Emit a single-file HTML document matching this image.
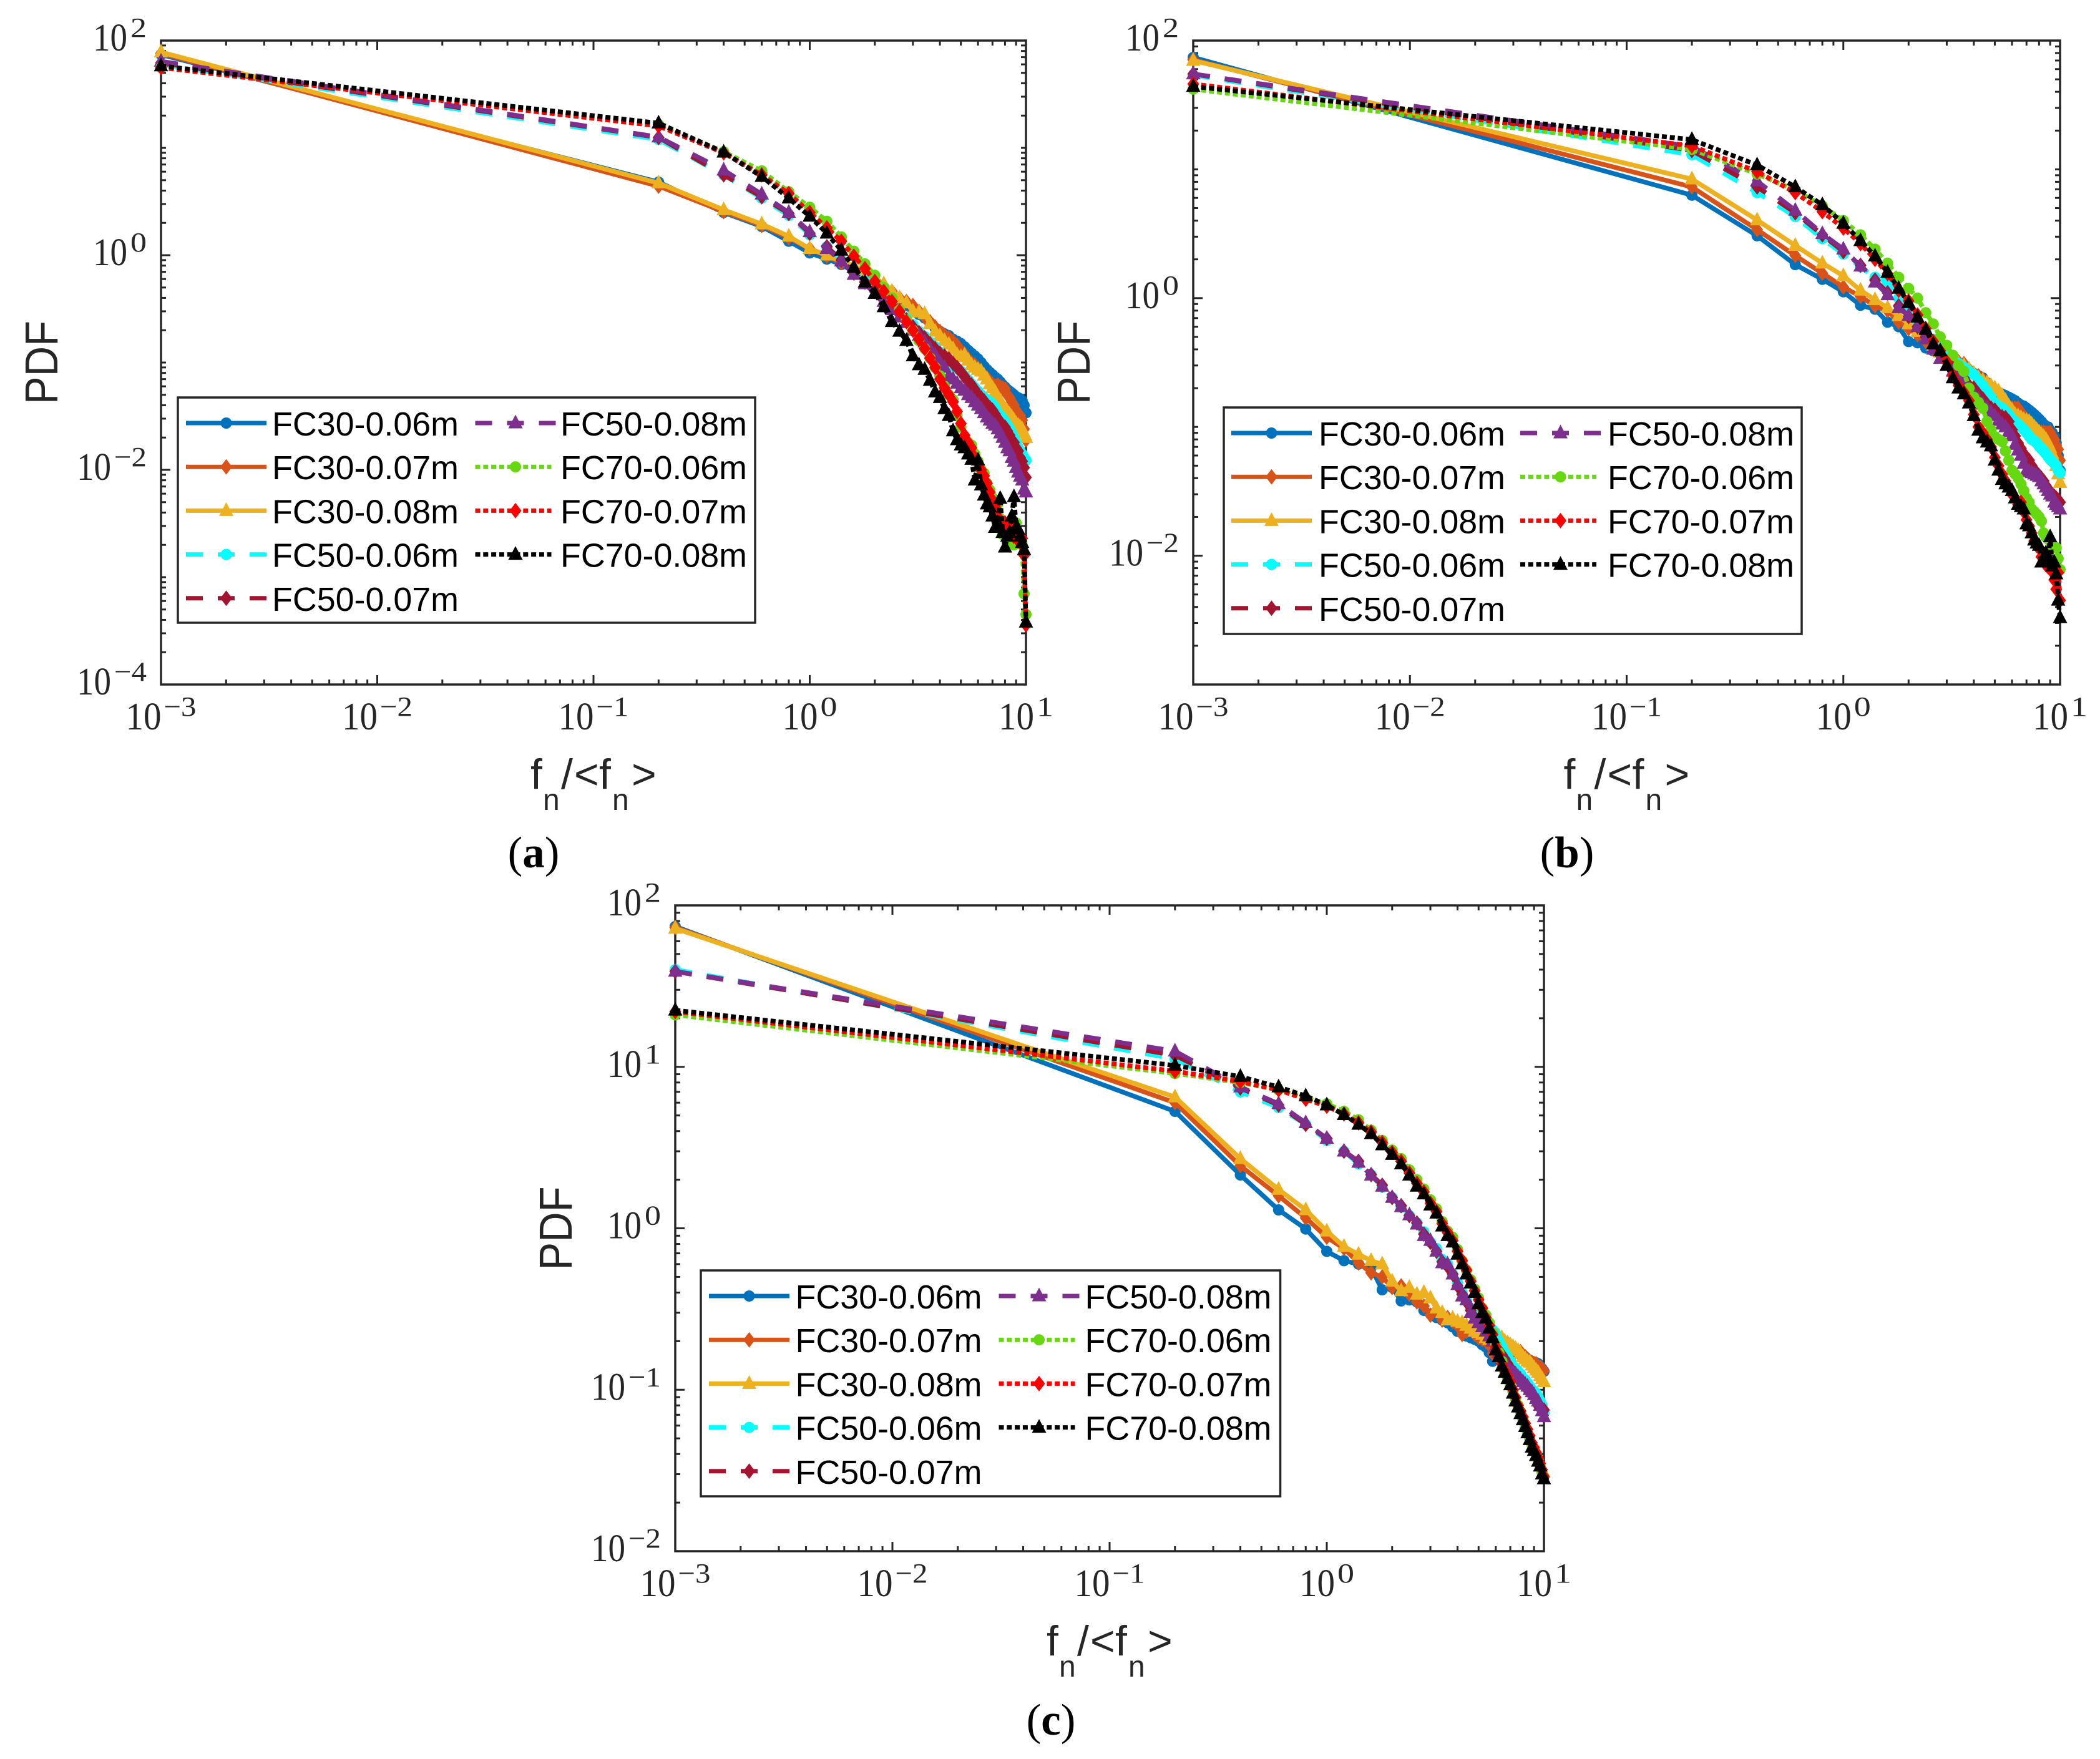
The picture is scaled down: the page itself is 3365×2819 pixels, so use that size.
<!DOCTYPE html>
<html lang="en">
<head>
<meta charset="utf-8">
<title>PDF of normal contact force for FC30, FC50 and FC70</title>
<style>
html,body{margin:0;padding:0;background:#fff}
svg{display:block}
</style>
</head>
<body>
<svg id="figure" xmlns="http://www.w3.org/2000/svg" width="3365" height="2819" viewBox="0 0 3365 2819">
<rect x="0" y="0" width="3365" height="2819" fill="#ffffff"/>
</svg>
<script>
// ---------- shared categories ----------
const xValues = [0.001,
 0.2,0.4,0.6,0.8,1.0,1.2,1.4,1.6,1.8,2.0,
 2.2,2.4,2.6,2.8,3.0,3.2,3.4,3.6,3.8,4.0,
 4.2,4.4,4.6,4.8,5.0,5.2,5.4,5.6,5.8,6.0,
 6.2,6.4,6.6,6.8,7.0,7.2,7.4,7.6,7.8,8.0,
 8.2,8.4,8.6,8.8,9.0,9.2,9.4,9.6,9.8,10.0];
const seriesNames = ['FC30-0.06m','FC30-0.07m','FC30-0.08m','FC50-0.06m','FC50-0.07m','FC50-0.08m','FC70-0.06m','FC70-0.07m','FC70-0.08m'];
const xTickExponents = [-3,-2,-1,0,1];
const yTickExponentsA = [-4,-2,0,2];
const yTickExponentsB = [-2,0,2];
const yTickExponentsC = [-2,-1,0,1,2];

// ---------- panel (a) values ----------
const a_fc30_06 = [74,
 4.8,2.5,1.85,1.35,1.05,.92,.82,.7,.6,.54,
 .47,.42,.38,.34,.31,.28,.26,.235,.21,.195,
 .185,.178,.165,.158,.15,.14,.13,.122,.115,.108,
 .1,.092,.086,.081,.077,.073,.07,.066,.062,.059,
 .056,.054,.052,.05,.048,.047,.046,.044,.04,.034];
const a_fc30_07 = [76,
 4.4,2.55,1.9,1.45,1.15,.98,.85,.75,.65,.58,
 .52,.46,.4,.37,.34,.3,.265,.24,.215,.195,
 .18,.17,.158,.145,.13,.12,.107,.1,.095,.088,
 .082,.076,.072,.067,.063,.06,.062,.059,.058,.057,
 .05,.047,.043,.04,.036,.033,.032,.029,.024,.019];
const a_fc30_08 = [78,
 4.7,2.65,1.95,1.5,1.15,1,.88,.79,.71,.62,
 .54,.46,.4,.36,.3,.295,.284,.23,.195,.177,
 .16,.148,.134,.118,.113,.117,.105,.095,.09,.086,
 .083,.076,.07,.063,.058,.053,.048,.044,.04,.037,
 .035,.033,.031,.029,.027,.026,.025,.024,.022,.02];
const a_fc50_06 = [60,
 12,5.6,3.4,2.35,1.55,1.2,.9,.7,.58,.48,
 .4,.34,.3,.26,.225,.195,.175,.155,.14,.125,
 .11,.1,.092,.088,.083,.075,.069,.063,.058,.054,
 .05,.047,.045,.043,.041,.038,.034,.032,.03,.028,
 .026,.024,.022,.02,.018,.016,.015,.014,.013,.0123];
const a_fc50_07 = [62,
 12.5,5.6,3.5,2.45,1.6,1.2,.9,.68,.56,.46,
 .38,.33,.29,.25,.215,.19,.17,.15,.135,.122,
 .115,.108,.098,.09,.082,.074,.066,.062,.056,.05,
 .047,.044,.04,.038,.036,.033,.03,.028,.026,.025,
 .023,.021,.019,.018,.016,.015,.013,.012,.0105,.0085];
const a_fc50_08 = [64,
 12.6,6.2,3.7,2.5,1.65,1.15,.88,.66,.54,.44,
 .37,.31,.265,.235,.2,.178,.155,.135,.117,.1,
 .09,.075,.07,.064,.058,.055,.05,.047,.043,.04,
 .037,.034,.031,.029,.027,.026,.024,.022,.02,.018,
 .016,.015,.013,.012,.0105,.0095,.0087,.008,.0066,.0062];
const a_fc70_06 = [56,
 16.5,9.2,6.1,3.9,2.8,2.07,1.48,1.09,.83,.65,
 .5,.4,.31,.25,.2,.16,.135,.11,.09,.075,
 .06,.05,.045,.032,.025,.02,.018,.017,.014,.012,
 .01,.0093,.0075,.0065,.0055,.005,.0048,.0035,.0025,.0028,
 .0032,.0022,.0026,.002,.0032,.0024,.0022,.002,.0007,.00045];
const a_fc70_07 = [56,
 16,9,5.6,3.75,2.5,1.8,1.35,.98,.75,.57,
 .46,.37,.3,.24,.2,.165,.135,.11,.09,.07,
 .058,.05,.043,.035,.027,.021,.018,.016,.013,.0115,
 .01,.0088,.0075,.0062,.0052,.0045,.0036,.0034,.003,.0032,
 .0026,.0032,.0028,.0024,.0027,.0022,.0021,.0023,.0016,.00036];
const a_fc70_08 = [58,
 17,9.1,5.4,3.4,2.3,1.6,1.11,.77,.56,.44,
 .33,.24,.195,.16,.115,.095,.086,.068,.053,.047,
 .037,.032,.023,.019,.017,.016,.014,.0125,.008,.0123,
 .0072,.0058,.0048,.0045,.0037,.0029,.0032,.0054,.0026,.0019,
 .0024,.0026,.0037,.0056,.0029,.0028,.0024,.0021,.0018,.00038];

// ---------- panel (b) values ----------
const b_fc30_06 = [74,
 6.3,3.05,1.82,1.4,1.12,.88,.82,.65,.6,.46,
 .45,.41,.39,.37,.35,.33,.31,.29,.275,.26,
 .25,.24,.22,.205,.195,.185,.18,.175,.17,.165,
 .16,.153,.148,.145,.14,.135,.13,.125,.12,.115,
 .11,.105,.063,.1,.094,.09,.085,.075,.06,.046];
const b_fc30_07 = [71,
 7.3,3.4,2.14,1.56,1.22,1.03,.87,.8,.65,.58,
 .52,.46,.4,.37,.34,.33,.32,.31,.28,.26,
 .25,.235,.22,.2,.19,.175,.16,.15,.145,.14,
 .14,.14,.13,.12,.115,.11,.105,.1,.095,.092,
 .091,.091,.09,.09,.091,.085,.08,.072,.067,.055];
const b_fc30_08 = [70,
 8.4,4.04,2.56,1.87,1.49,1.15,.97,.84,.73,.63,
 .55,.48,.43,.38,.35,.33,.31,.3,.28,.26,
 .24,.23,.22,.21,.2,.19,.175,.16,.145,.135,
 .125,.122,.118,.114,.112,.11,.105,.1,.095,.091,
 .087,.084,.08,.075,.069,.062,.056,.05,.043,.037];
const b_fc50_06 = [54,
 13,6.6,4.3,2.9,2.2,1.75,1.45,1.33,1.0,.8,
 .66,.55,.48,.42,.38,.35,.31,.29,.27,.255,
 .23,.21,.19,.17,.153,.145,.14,.132,.125,.115,
 .11,.105,.1,.095,.09,.085,.08,.078,.075,.071,
 .068,.065,.062,.059,.056,.054,.052,.05,.046,.044];
const b_fc50_07 = [55,
 14,7.3,4.6,3.1,2.3,1.8,1.38,1.1,.87,.72,
 .6,.5,.42,.36,.32,.29,.27,.24,.21,.2,
 .18,.165,.15,.14,.135,.125,.12,.118,.11,.095,
 .085,.075,.068,.062,.058,.055,.05,.046,.044,.042,
 .04,.038,.035,.033,.031,.03,.029,.028,.027,.026];
const b_fc50_08 = [55,
 15,8.1,4.8,3.16,2.4,1.77,1.33,1.06,.84,.73,
 .6,.48,.4,.34,.3,.27,.25,.23,.2,.18,
 .165,.15,.14,.13,.122,.112,.105,.1,.092,.085,
 .073,.066,.06,.052,.046,.045,.044,.043,.042,.041,
 .038,.036,.034,.032,.03,.029,.026,.025,.024,.023];
const b_fc70_06 = [42,
 14.3,9.2,6.9,5.2,4,3.1,2.4,1.87,1.45,1.19,
 1,.77,.63,.5,.43,.36,.3,.27,.2,.17,
 .155,.14,.11,.095,.084,.08,.077,.065,.055,.046,
 .043,.04,.036,.032,.028,.026,.023,.022,.021,.02,
 .0186,.015,.014,.0135,.013,.012,.0118,.0115,.0095,.0078];
const b_fc70_07 = [46,
 15.2,9.6,6.6,4.7,3.5,2.65,2.0,1.55,1.15,.95,
 .74,.58,.46,.39,.32,.25,.21,.185,.16,.125,
 .1,.09,.08,.07,.058,.05,.043,.038,.034,.03,
 .028,.025,.026,.022,.019,.017,.015,.013,.012,.0115,
 .0098,.0092,.0085,.0082,.0088,.0075,.0065,.0055,.0074,.0045];
const b_fc70_08 = [44,
 17,10.8,7.3,5.3,3.8,2.79,2.12,1.58,1.19,.92,
 .71,.57,.44,.39,.3,.24,.2,.18,.153,.122,
 .094,.082,.076,.071,.055,.046,.039,.036,.034,.032,
 .028,.025,.024,.023,.0176,.017,.015,.0132,.0125,.012,
 .0089,.0094,.0105,.0089,.014,.0083,.0089,.0072,.0045,.0033];

// ---------- panel (c) values ----------
const c_fc30_06 = [74,
 5.3,2.14,1.3,.99,.72,.63,.6,.57,.416,.43,
 .355,.36,.35,.31,.295,.28,.27,.26,.245,.23,
 .225,.215,.21,.205,.2,.19,.184,.17,.15,.16,
 .175,.18,.19,.195,.185,.18,.175,.17,.168,.165,
 .16,.155,.152,.15,.148,.147,.145,.14,.135,.13];
const c_fc30_07 = [73,
 6,2.44,1.59,1.16,.88,.75,.61,.53,.5,.43,
 .44,.39,.35,.33,.29,.31,.27,.28,.265,.25,
 .22,.23,.24,.22,.21,.205,.2,.19,.168,.185,
 .19,.185,.18,.175,.178,.175,.172,.17,.172,.165,
 .16,.155,.15,.148,.145,.145,.14,.138,.135,.131];
const c_fc30_08 = [72,
 6.5,2.7,1.74,1.3,.96,.77,.69,.63,.6,.47,
 .41,.43,.39,.4,.37,.32,.3,.27,.277,.265,
 .26,.25,.24,.23,.226,.22,.21,.205,.21,.22,
 .215,.21,.2,.195,.19,.185,.18,.175,.168,.16,
 .155,.15,.148,.142,.137,.132,.128,.122,.117,.112];
const c_fc50_06 = [40,
 11.2,7,5.6,4.4,3.5,3,2.5,2.15,1.8,1.55,
 1.35,1.2,1.08,.95,.82,.75,.64,.6,.52,.46,
 .4,.36,.32,.29,.27,.255,.245,.24,.235,.22,
 .2,.185,.17,.16,.15,.14,.135,.13,.125,.118,
 .115,.11,.105,.1,.098,.095,.09,.085,.08,.072];
const c_fc50_07 = [39,
 11.8,7.4,5.8,4.4,3.6,3,2.6,2.15,1.85,1.55,
 1.38,1.2,1.08,.92,.82,.72,.62,.58,.52,.44,
 .39,.35,.31,.28,.265,.25,.235,.22,.205,.19,
 .175,.165,.155,.145,.135,.13,.125,.12,.115,.11,
 .105,.1,.097,.094,.09,.085,.08,.077,.075,.075];
const c_fc50_08 = [39,
 12.5,7.5,5.9,4.5,3.6,3,2.56,2.13,1.82,1.55,
 1.36,1.21,1.06,.9,.84,.72,.61,.6,.52,.447,
 .38,.36,.3,.277,.26,.245,.23,.215,.2,.185,
 .17,.158,.148,.14,.13,.128,.125,.12,.116,.112,
 .108,.105,.1,.097,.093,.088,.085,.08,.074,.068];
const c_fc70_06 = [21,
 9.1,8,7.2,6.4,5.9,5.3,4.7,4.05,3.5,3.05,
 2.7,2.3,2,1.75,1.5,1.32,1.1,.96,.88,.74,
 .63,.55,.48,.42,.37,.32,.29,.26,.225,.19,
 .17,.15,.13,.118,.108,.098,.088,.08,.073,.066,
 .058,.054,.05,.046,.043,.04,.037,.034,.031,.029];
const c_fc70_07 = [22,
 9.4,8.1,7.2,6.3,5.7,5.1,4.5,3.95,3.4,2.95,
 2.6,2.2,1.9,1.68,1.43,1.27,1.07,.94,.84,.72,
 .63,.55,.47,.41,.36,.32,.28,.25,.22,.185,
 .165,.145,.132,.122,.112,.1,.09,.08,.074,.068,
 .062,.057,.052,.047,.044,.041,.038,.035,.032,.029];
const c_fc70_08 = [22.4,
 10.2,8.7,7.5,6.6,5.8,5.05,4.4,3.85,3.28,2.86,
 2.5,2.13,1.82,1.63,1.39,1.24,1.03,.9,.82,.69,
 .6,.52,.457,.4,.34,.3,.277,.24,.21,.176,
 .16,.14,.128,.117,.107,.095,.085,.078,.071,.065,
 .059,.054,.049,.044,.042,.039,.036,.0336,.03,.028];

// ---------- styling (not data) ----------
const SVGNS = 'http://www.w3.org/2000/svg';
const AXIS_COLOR = '#262626';
const COLORS = ['#0072BD','#D95319','#EDB120','#00FFFF','#A2142F','#7E2F8E','#66D810','#FF0000','#000000'];
const DASHES = ['none','none','none','27 24','27 24','27 24','8 4.8','8 4.8','8 4.8'];
const MARKERS = ['circle','diamond','triangle','circle','diamond','triangle','circle','diamond','triangle'];
const MINOR_MULTIPLIERS = [2,3,4,5,6,7,8,9];

const panels = [
 {id:'a', left:258, right:1644, top:65, bottom:1097, yMin:-4, yMax:2, yTicks:yTickExponentsA,
  series:[a_fc30_06,a_fc30_07,a_fc30_08,a_fc50_06,a_fc50_07,a_fc50_08,a_fc70_06,a_fc70_07,a_fc70_08],
  legend:{left:285,right:1210,top:637,bottom:998,row0:678,line1:298,text1:436,line2:761.5,text2:898}, caption:855, captionY:1390},
 {id:'b', left:1912, right:3301, top:65, bottom:1097, yMin:-3, yMax:2, yTicks:yTickExponentsB,
  series:[b_fc30_06,b_fc30_07,b_fc30_08,b_fc50_06,b_fc50_07,b_fc50_08,b_fc70_06,b_fc70_07,b_fc70_08],
  legend:{left:1961,right:2887,top:653,bottom:1016,row0:694,line1:1973,text1:2113,line2:2436,text2:2576}, caption:2511, captionY:1390},
 {id:'c', left:1082, right:2474, top:1451, bottom:2486, yMin:-2, yMax:2, yTicks:yTickExponentsC,
  series:[c_fc30_06,c_fc30_07,c_fc30_08,c_fc50_06,c_fc50_07,c_fc50_08,c_fc70_06,c_fc70_07,c_fc70_08],
  legend:{left:1123,right:2051.5,top:2036,bottom:2398,row0:2077,line1:1136,text1:1274.5,line2:1600.5,text2:1738.5}, caption:1684, captionY:2780}
];

const root = document.getElementById('figure');

function make(tag, parent, attrs, text) {
  const node = document.createElementNS(SVGNS, tag);
  for (const k in attrs) node.setAttribute(k, attrs[k]);
  if (text !== undefined) node.textContent = text;
  parent.appendChild(node);
  return node;
}

function drawMarker(parent, kind, cx, cy, color) {
  if (kind === 'circle') {
    return make('circle', parent, {cx:cx, cy:cy, r:9, fill:color});
  }
  if (kind === 'diamond') {
    const pts = [[cx,cy-12.5],[cx+9.5,cy],[cx,cy+12.5],[cx-9.5,cy]].map(p => p.join(',')).join(' ');
    return make('polygon', parent, {points:pts, fill:color});
  }
  const pts = [[cx,cy-13.5],[cx+11.5,cy+8.5],[cx-11.5,cy+8.5]].map(p => p.join(',')).join(' ');
  return make('polygon', parent, {points:pts, fill:color});
}

function supText(exp) {
  return exp < 0 ? '\u2212' + Math.abs(exp) : String(exp);
}

panels.forEach(function (p) {
  const xMin = -3, xMax = 1;
  const xScale = v => p.left + (Math.log10(v) - xMin) / (xMax - xMin) * (p.right - p.left);
  const yScale = v => p.top + (p.yMax - Math.log10(v)) / (p.yMax - p.yMin) * (p.bottom - p.top);

  const g = make('g', root, {});
  
  

  // axes box
  const box = make('rect', g, {x:p.left, y:p.top, width:p.right-p.left, height:p.bottom-p.top, fill:'#fff', stroke:AXIS_COLOR, 'stroke-width':3.5});
  
  

  // ticks
  const ticks = make('g', g, {stroke:AXIS_COLOR, 'stroke-width':3, fill:'none'});
  
  
  const seg = (x1,y1,x2,y2) => make('line', ticks, {x1:x1,y1:y1,x2:x2,y2:y2});
  for (let d = xMin; d <= xMax; d++) {
    const X = xScale(Math.pow(10,d));
    if (d > xMin && d < xMax) { seg(X,p.bottom,X,p.bottom-15); seg(X,p.top,X,p.top+15); }
    if (d < xMax) MINOR_MULTIPLIERS.forEach(function (m) {
      const mx = xScale(m*Math.pow(10,d));
      seg(mx,p.bottom,mx,p.bottom-8); seg(mx,p.top,mx,p.top+8);
    });
  }
  for (let d = p.yMin; d <= p.yMax; d++) {
    const Y = yScale(Math.pow(10,d));
    const major = p.yTicks.indexOf(d) >= 0;
    if (d > p.yMin && d < p.yMax) {
      const len = major ? 15 : 8;
      seg(p.left,Y,p.left+len,Y); seg(p.right,Y,p.right-len,Y);
    }
    if (d < p.yMax) MINOR_MULTIPLIERS.forEach(function (m) {
      const my = yScale(m*Math.pow(10,d));
      seg(p.left,my,p.left+8,my); seg(p.right,my,p.right-8,my);
    });
  }

  // x tick labels
  xTickExponents.forEach(function (e) {
    const tx = xScale(Math.pow(10,e));
    const supW = e < 0 ? 52 : 27;
    const start = tx - (57 + 4 + supW) / 2;
    const lab = make('g', g, {fill:AXIS_COLOR, 'font-family':'"Liberation Serif", serif'});
    
    
    make('text', lab, {x:start, y:p.bottom+72, 'font-size':62, textLength:57, lengthAdjust:'spacingAndGlyphs'}, '10');
    make('text', lab, {x:start+61, y:p.bottom+50, 'font-size':44, textLength:supW, lengthAdjust:'spacingAndGlyphs'}, supText(e));
  });

  // y tick labels
  p.yTicks.forEach(function (e) {
    const ty = yScale(Math.pow(10,e));
    const supW = e < 0 ? 52 : 26;
    const supX = p.left - 23 - supW;
    const lab = make('g', g, {fill:AXIS_COLOR, 'font-family':'"Liberation Serif", serif'});
    
    
    make('text', lab, {x:supX-5-55, y:ty+16, 'font-size':62, textLength:55, lengthAdjust:'spacingAndGlyphs'}, '10');
    make('text', lab, {x:supX, y:ty-6, 'font-size':44, textLength:supW, lengthAdjust:'spacingAndGlyphs'}, supText(e));
  });

  // y axis title
  const midY = (p.top + p.bottom) / 2;
  const yTitle = make('text', g, {transform:'translate('+(p.left-166)+','+midY+') rotate(-90)', 'text-anchor':'middle', 'font-family':'"Liberation Sans", sans-serif', 'font-size':74, fill:AXIS_COLOR, textLength:134, lengthAdjust:'spacingAndGlyphs'}, 'PDF');
  
  

  // x axis title
  const cx = (p.left + p.right) / 2;
  const base = p.bottom + 167, sub = p.bottom + 201;
  const xTitle = make('text', g, {'font-family':'"Liberation Sans", sans-serif', 'font-size':68, fill:AXIS_COLOR});
  
  
  make('tspan', xTitle, {x:cx-101, y:base}, 'f');
  make('tspan', xTitle, {x:cx-81, y:sub, 'font-size':48}, 'n');
  make('tspan', xTitle, {x:cx-52, y:base}, '/');
  make('tspan', xTitle, {x:cx-31, y:base}, '<');
  make('tspan', xTitle, {x:cx+9, y:base}, 'f');
  make('tspan', xTitle, {x:cx+30, y:sub, 'font-size':48}, 'n');
  make('tspan', xTitle, {x:cx+61, y:base}, '>');

  // caption
  const cap = make('text', g, {x:p.caption, y:p.captionY, 'text-anchor':'middle', 'font-family':'"Liberation Serif", serif', 'font-size':71, fill:'#000'});
  
  
  make('tspan', cap, {}, '(');
  make('tspan', cap, {'font-weight':'bold'}, p.id);
  make('tspan', cap, {}, ')');

  // series
  p.series.forEach(function (vals, i) {
    const sg = make('g', g, {});
    
    
    const points = vals.map((v, k) => xScale(xValues[k]).toFixed(1) + ',' + yScale(v).toFixed(1)).join(' ');
    const line = make('polyline', sg, {points:points, fill:'none', stroke:COLORS[i], 'stroke-width':7.5, 'stroke-linejoin':'round', 'stroke-dasharray':DASHES[i]});
    
    
    vals.forEach(function (v, k) {
      const mk = drawMarker(sg, MARKERS[i], xScale(xValues[k]), yScale(v), COLORS[i]);
      
      
    });
  });

  // legend
  const L = p.legend;
  const lg = make('g', g, {});
  
  
  const lbox = make('rect', lg, {x:L.left, y:L.top, width:L.right-L.left, height:L.bottom-L.top, fill:'#fff', stroke:AXIS_COLOR, 'stroke-width':3.5});
  
  
  seriesNames.forEach(function (name, i) {
    const col2 = i >= 5;
    const row = col2 ? i - 5 : i;
    const y = L.row0 + row * 70.2;
    const lx = col2 ? L.line2 : L.line1;
    const tx = col2 ? L.text2 : L.text1;
    const lineLen = i >= 6 ? 122 : 129;
    const entry = make('g', lg, {});
    
    
    make('line', entry, {x1:lx, y1:y, x2:lx+lineLen, y2:y, stroke:COLORS[i], 'stroke-width':7, 'stroke-dasharray':DASHES[i]});
    drawMarker(entry, MARKERS[i], lx+64.5, y, COLORS[i]);
    make('text', entry, {x:tx, y:y+20, 'font-family':'"Liberation Sans", sans-serif', 'font-size':54, fill:'#000', textLength:299, lengthAdjust:'spacingAndGlyphs'}, name);
  });
});
</script>
</body>
</html>
